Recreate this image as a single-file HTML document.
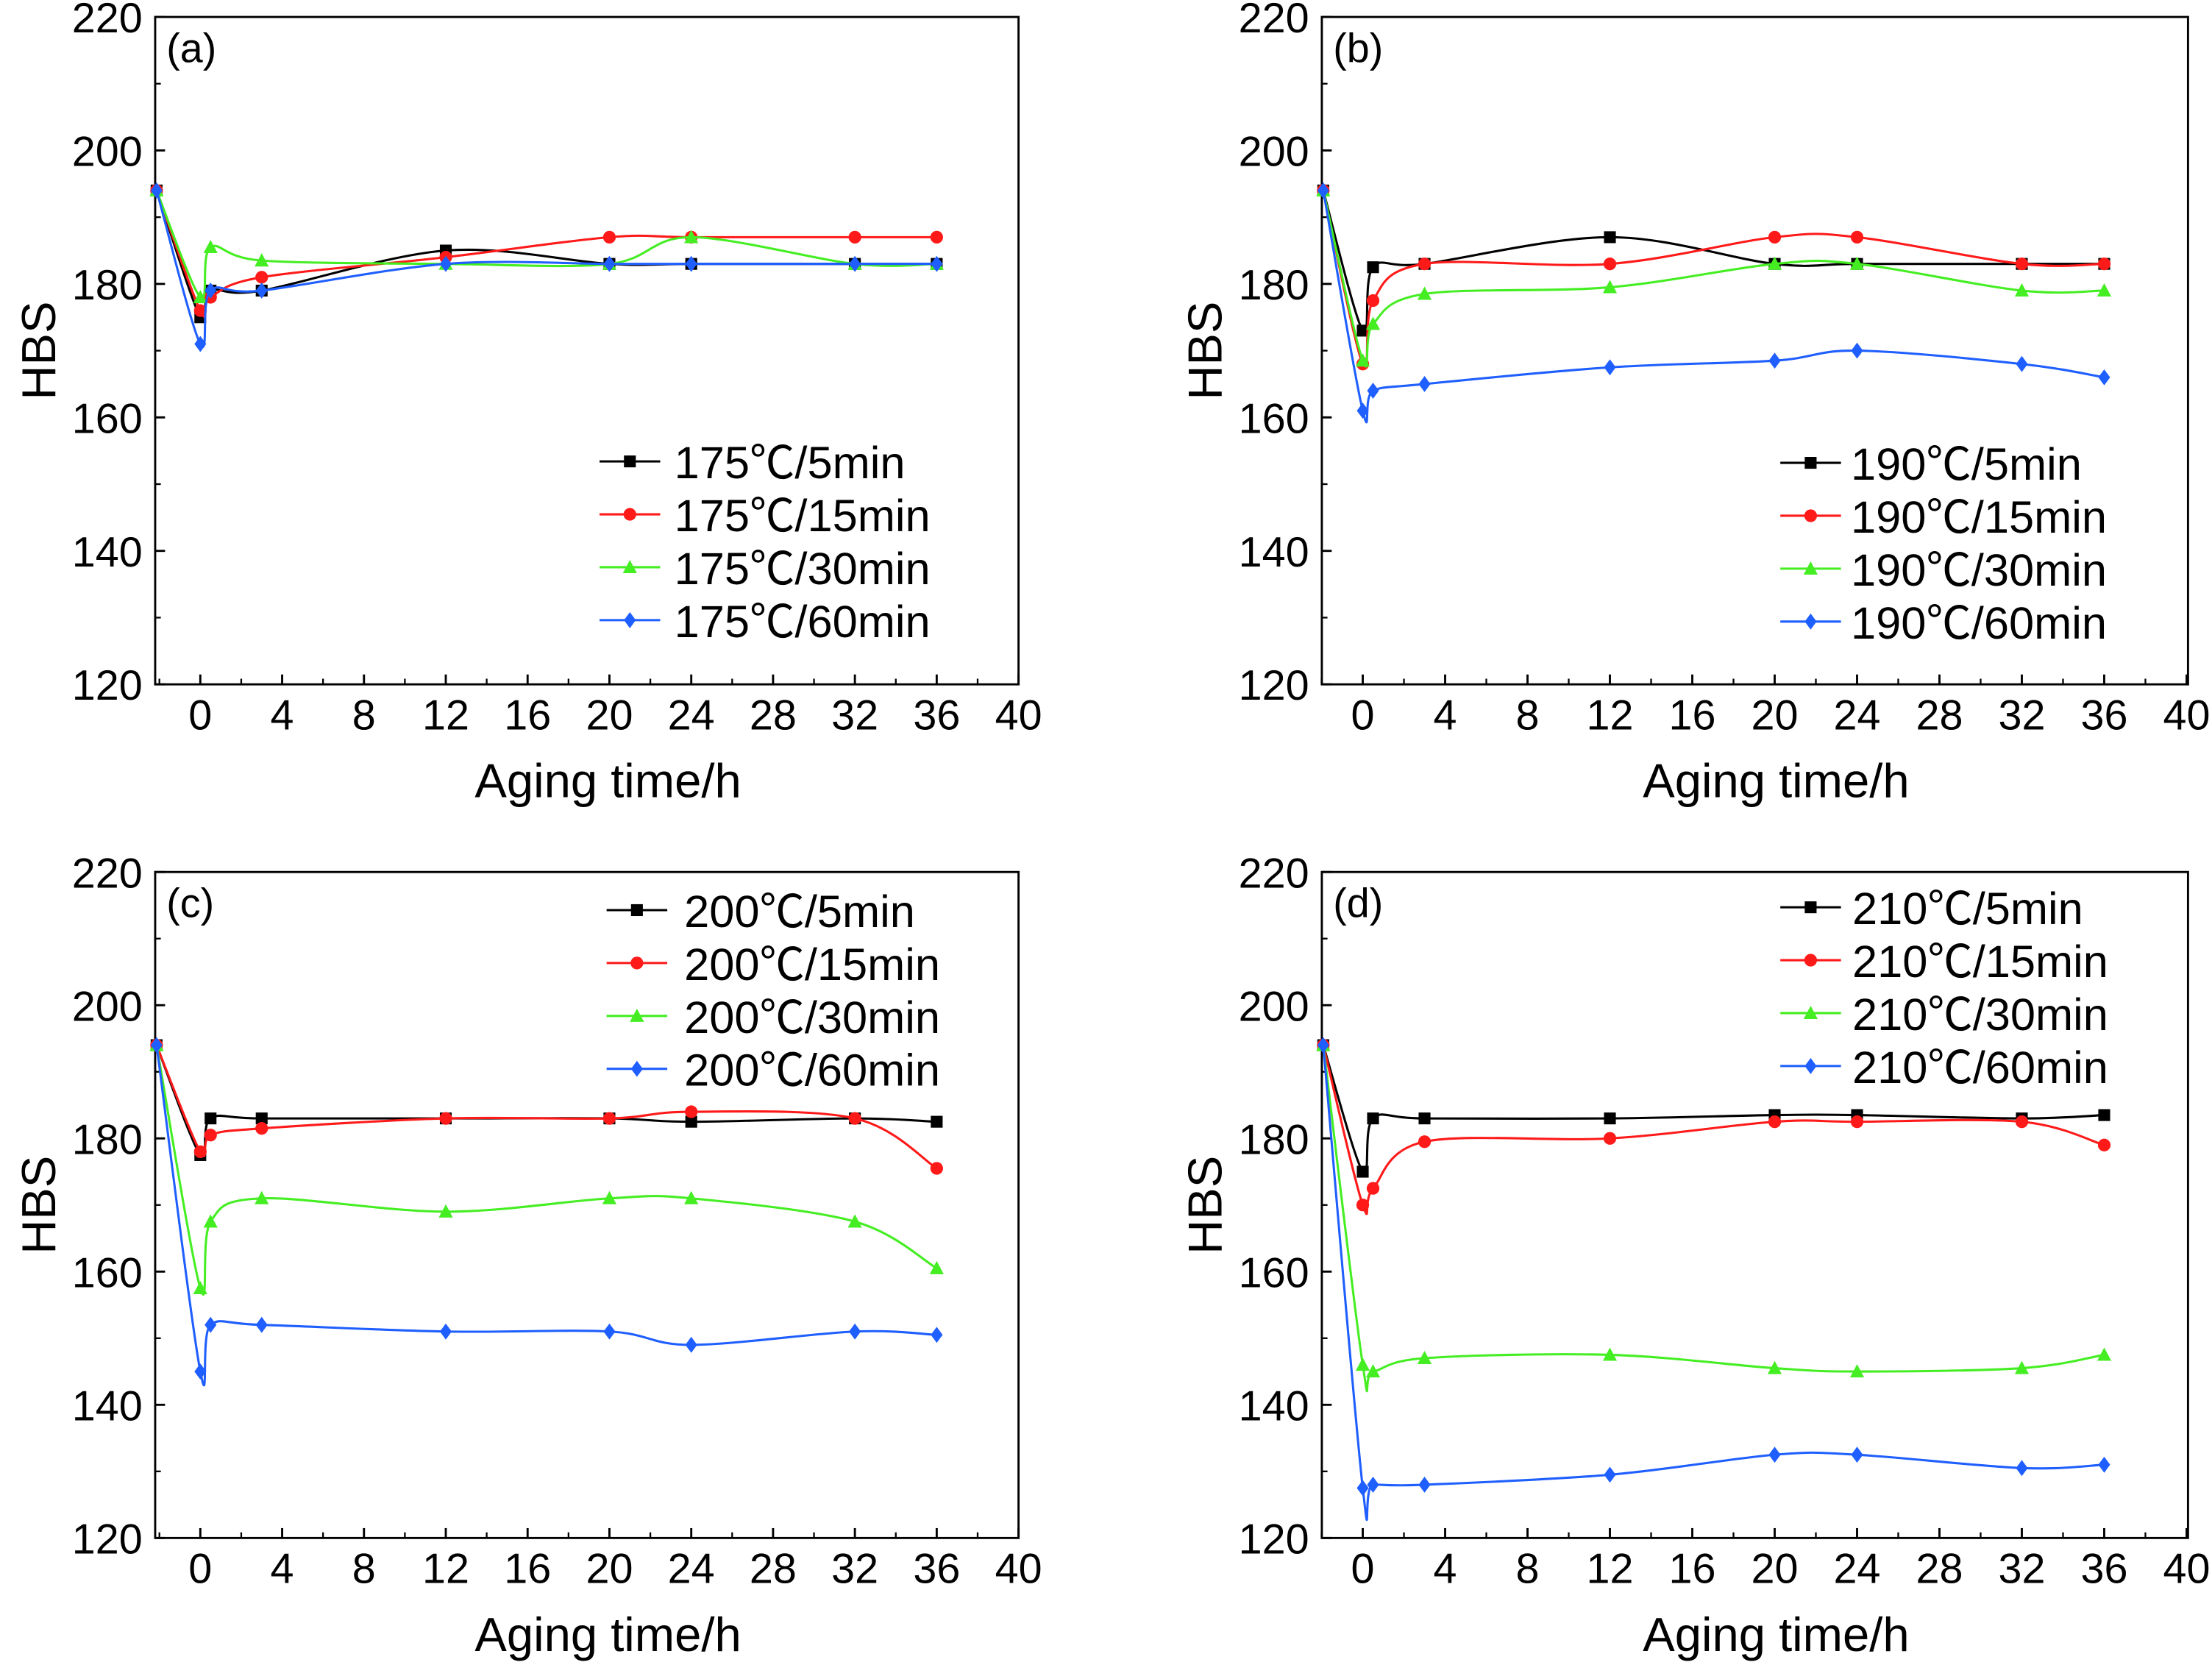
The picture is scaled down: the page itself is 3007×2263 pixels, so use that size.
<!DOCTYPE html>
<html><head><meta charset="utf-8"><style>
html,body{margin:0;padding:0;background:#fff;}
svg{display:block;font-family:"Liberation Sans",Arial,"Noto Sans CJK SC",sans-serif;}
</style></head><body>
<svg id="chart" width="3007" height="2263" viewBox="0 0 1568 1180" xmlns="http://www.w3.org/2000/svg"></svg>
<script>
const xTimes = [-2.2, 0, 0.5, 3, 12, 20, 24, 32, 36];
const xTicks = [0, 4, 8, 12, 16, 20, 24, 28, 32, 36, 40];
const yTicks = [120, 140, 160, 180, 200, 220];
const seriesNames = ["5min", "15min", "30min", "60min"];
const panelLabels = ["(a)", "(b)", "(c)", "(d)"];
const panelTemps = ["175", "190", "200", "210"];
const a5 = [194, 175, 179, 179, 185, 183, 183, 183, 183];
const a15 = [194, 176, 178, 181, 184, 187, 187, 187, 187];
const a30 = [194, 178, 185.5, 183.5, 183, 183, 187, 183, 183];
const a60 = [194, 171, 179, 179, 183, 183, 183, 183, 183];
const b5 = [194, 173, 182.5, 183, 187, 183, 183, 183, 183];
const b15 = [194, 168, 177.5, 183, 183, 187, 187, 183, 183];
const b30 = [194, 168.5, 174, 178.5, 179.5, 183, 183, 179, 179];
const b60 = [194, 161, 164, 165, 167.5, 168.5, 170, 168, 166];
const c5 = [194, 177.5, 183, 183, 183, 183, 182.5, 183, 182.5];
const c15 = [194, 178, 180.5, 181.5, 183, 183, 184, 183, 175.5];
const c30 = [194, 157.5, 167.5, 171, 169, 171, 171, 167.5, 160.5];
const c60 = [194, 145, 152, 152, 151, 151, 149, 151, 150.5];
const d5 = [194, 175, 183, 183, 183, 183.5, 183.5, 183, 183.5];
const d15 = [194, 170, 172.5, 179.5, 180, 182.5, 182.5, 182.5, 179];
const d30 = [194, 146, 145, 147, 147.5, 145.5, 145, 145.5, 147.5];
const d60 = [194, 127.5, 128, 128, 129.5, 132.5, 132.5, 130.5, 131];

const panelData = [[a5,a15,a30,a60],[b5,b15,b30,b60],[c5,c15,c30,c60],[d5,d15,d30,d60]];
const colors = ["#000000", "#ff1a1a", "#44ee22", "#1f5fff"];
const markers = ["square", "circle", "triangle", "diamond"];
const panels = [
  {l:110, r:722, t:12, b:485, x0:142, u:14.5, leg:{x:425, y:327, tx:478}},
  {l:937, r:1551, t:12, b:485, x0:966, u:14.6, leg:{x:1262, y:328, tx:1312}},
  {l:110, r:722, t:618, b:1090, x0:142, u:14.5, leg:{x:430, y:645, tx:485}},
  {l:937, r:1551, t:618, b:1090, x0:966, u:14.6, leg:{x:1262, y:643, tx:1313}}
];
const NS = "http://www.w3.org/2000/svg";
const svg = document.getElementById("chart");
function mk(tag, attrs, parent) {
  const e = document.createElementNS(NS, tag);
  for (const k in attrs) e.setAttribute(k, attrs[k]);
  (parent || svg).appendChild(e);
  return e;
}
function marker(g, type, x, y, col) {
  const s = 4.2;
  let e;
  if (type === "square") e = mk("rect", {x:x-s, y:y-s, width:2*s, height:2*s, fill:col}, g);
  else if (type === "circle") e = mk("circle", {cx:x, cy:y, r:s+0.3, fill:col}, g);
  else if (type === "triangle") e = mk("polygon", {points:`${x},${y-s-1} ${x+s+0.8},${y+s} ${x-s-0.8},${y+s}`, fill:col}, g);
  else e = mk("polygon", {points:`${x},${y-s-1.5} ${x+s},${y} ${x},${y+s+1.5} ${x-s},${y}`, fill:col}, g);
  
  
  return e;
}
function smoothPath(pts) {
  let d = `M${pts[0][0]},${pts[0][1]}`;
  for (let i = 0; i < pts.length - 1; i++) {
    const p0 = pts[i-1] || pts[i], p1 = pts[i], p2 = pts[i+1], p3 = pts[i+2] || p2;
    const c1 = [p1[0] + (p2[0]-p0[0])/6, p1[1] + (p2[1]-p0[1])/6];
    const c2 = [p2[0] - (p3[0]-p1[0])/6, p2[1] - (p3[1]-p1[1])/6];
    d += ` C${c1[0]},${c1[1]} ${c2[0]},${c2[1]} ${p2[0]},${p2[1]}`;
  }
  return d;
}
panels.forEach((P, pi) => {
  const g = mk("g", {});
  
  
  const xs = v => P.x0 + v * P.u;
  const ys = v => P.b - (v - 120) / 100 * (P.b - P.t);
  const fr = mk("rect", {x:P.l, y:P.t, width:P.r-P.l, height:P.b-P.t, fill:"none", stroke:"#000", "stroke-width":1.5}, g);
  
  
  xTicks.forEach(v => {
    const x = xs(v);
    mk("line", {x1:x, y1:P.b, x2:x, y2:P.b-7, stroke:"#000", "stroke-width":1.5}, g);
    mk("line", {x1:xs(v-2), y1:P.b, x2:xs(v-2), y2:P.b-4, stroke:"#000", "stroke-width":1.2}, g);
    const t = mk("text", {x:x, y:P.b+32, "font-size":30, "text-anchor":"middle"}, g);
    t.textContent = v;
    
    
  });
  yTicks.forEach(v => {
    const y = ys(v);
    mk("line", {x1:P.l, y1:y, x2:P.l+7, y2:y, stroke:"#000", "stroke-width":1.5}, g);
    if (v < 220) mk("line", {x1:P.l, y1:ys(v+10), x2:P.l+4, y2:ys(v+10), stroke:"#000", "stroke-width":1.2}, g);
    const t = mk("text", {x:P.l-9, y:y+11, "font-size":30, "text-anchor":"end"}, g);
    t.textContent = v;
    
    
  });
  const xt = mk("text", {x:(P.l+P.r)/2 + 15, y:P.b+80, "font-size":34, "text-anchor":"middle"}, g);
  xt.textContent = "Aging time/h";
  
  
  const yc = (P.t+P.b)/2;
  const yt = mk("text", {x:P.l-83, y:yc, "font-size":34, "text-anchor":"middle", transform:`rotate(-90 ${P.l-83} ${yc})`, dy:12}, g);
  yt.textContent = "HBS";
  
  
  const pl = mk("text", {x:P.l+8, y:P.t+32, "font-size":29}, g);
  pl.textContent = panelLabels[pi];
  
  
  panelData[pi].forEach((vals, si) => {
    const sg = mk("g", {}, g);
    
    
    const pts = vals.map((v, i) => [xs(xTimes[i]), ys(v)]);
    pts[0][0] = P.l + 1;
    const path = mk("path", {d:smoothPath(pts), fill:"none", stroke:colors[si], "stroke-width":1.6}, sg);
    
    
    pts.forEach(p => marker(sg, markers[si], p[0], p[1], colors[si]));
    const ly = P.leg.y + si * 37.5;
    const lg = mk("g", {}, g);
    
    
    mk("line", {x1:P.leg.x, y1:ly, x2:P.leg.x+43, y2:ly, stroke:colors[si], "stroke-width":1.6}, lg);
    marker(lg, markers[si], P.leg.x+21.5, ly, colors[si]);
    const lt = mk("text", {x:P.leg.tx, y:ly+12, "font-size":32}, lg);
    const t1 = mk("tspan", {}, lt); t1.textContent = panelTemps[pi];
    const t2 = mk("tspan", {"font-family":"'Noto Sans CJK SC', sans-serif"}, lt); t2.textContent = "\u2103";
    const t3 = mk("tspan", {}, lt); t3.textContent = "/" + seriesNames[si];
  });
});
</script>
</body></html>
